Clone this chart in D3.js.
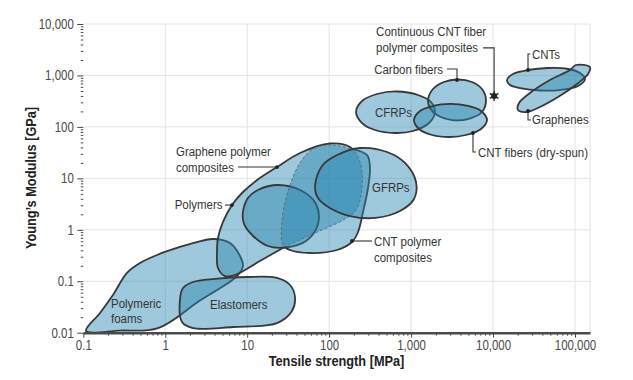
<!DOCTYPE html>
<html><head><meta charset="utf-8">
<script src="https://cdn.jsdelivr.net/npm/d3@7"></script>
<style>
html,body{margin:0;padding:0;background:#fff;}
svg text{font-family:"Liberation Sans",Arial,Helvetica,sans-serif;}
</style></head><body>
<svg id="chart" width="633" height="380"></svg>
<script>
// ---------- axis ticks ----------
const xTicks = [0.1, 1, 10, 100, 1000, 10000, 100000];
const xTickLabels = ["0.1", "1", "10", "100", "1,000", "10,000", "100,000"];
const yTicks = [0.01, 0.1, 1, 10, 100, 1000, 10000];
const yTickLabels = ["0.01", "0.1", "1", "10", "100", "1,000", "10,000"];

// ---------- material regions: [tensile strength MPa, Young's modulus GPa] ----------
const polymericFoams = [[0.108,0.0108],[0.16,0.0242],[0.23,0.054],[0.341,0.145],[0.492,0.226],[0.793,0.324],[1.51,0.464],[2.44,0.579],[3.83,0.662],[6.17,0.553],[8.17,0.31],[8.89,0.198],[7.51,0.126],[2.65,0.0423],[0.816,0.0123],[0.28,0.011]];
const elastomers = [[1.51,0.0433],[1.65,0.074],[2.18,0.0967],[4.05,0.111],[9.95,0.121],[23.1,0.116],[33.3,0.0845],[38.3,0.0494],[35.2,0.0264],[23.1,0.0154],[6.71,0.0129],[2.18,0.0123],[1.6,0.0161]];
const polymers = [[4.4,0.181],[4.28,0.37],[4.4,0.693],[5.07,1.42],[6.52,3.03],[8.64,5.19],[13.2,9.29],[23.1,16.6],[44.1,31.1],[102,47.6],[180,40.7],[238,20.8],[252,6.49],[213,2.43],[156,1.62],[67.2,0.867],[28.9,0.464],[14.3,0.247],[7.1,0.132],[5.36,0.126]];
const graphenePolymerComposites = [[8.89,2.22],[10.2,4.15],[13.5,5.94],[23.8,7.42],[46.6,5.68],[69.1,3.17],[73.1,1.3],[52.2,0.606],[28.9,0.453],[17.9,0.484],[11.8,0.758],[9.14,1.3]];
const cntPolymerComposites = [[27.3,0.507],[26.6,1.55],[32.4,6.49],[44.1,19.9],[63.5,37.2],[102,44.5],[180,38],[290,28.4],[315,15.9],[298,6.49],[259,2.22],[225,0.906],[190,0.579],[125,0.405],[58.4,0.354],[33.3,0.405]];
const gfrps = [[67.2,7.1],[81.8,17.4],[125,28.4],[238,38.9],[508,32.5],[843,19.9],[1148,8.49],[1085,3.97],[732,2.32],[363,1.7],[180,1.85],[102,2.65],[73.1,4.15]];
const cfrps = [[213,195],[252,319],[384,436],[673,488],[1214,417],[1749,305],[1957,195],[1654,119],[1055,83.2],[636,76.1],[363,87],[252,119]];
const carbonFibers = [[1608,333],[1850,545],[2520,746],[3632,834],[5535,746],[7330,545],[8200,333],[7330,195],[4946,142],[3156,136],[2070,170],[1700,233]];
const cntFibers = [[1085,136],[1284,204],[1850,255],[2983,279],[4946,255],[7129,204],[8437,136],[7129,91],[4677,69.6],[2983,63.6],[1799,69.6],[1248,91]];
const cnts = [[14800,816],[17510,1067],[26700,1276],[46820,1396],[82150,1335],[115100,1116],[132400,853],[108800,623],[65600,521],[37400,510],[21300,570],[16100,652]];
const graphenes = [[20160,213],[20740,291],[28200,456],[49500,816],[86900,1276],[102300,1596],[152000,1460],[144100,1067],[105800,682],[62000,381],[37400,244],[25960,195]];
const continuousCntFiberComposite = [10300, 400];

// ---------- labels ----------
const regionLabels = [
  {lines:["Polymeric","foams"], at:[0.218,0.0369]},
  {lines:["Elastomers"], at:[3.52,0.0358]},
  {lines:["GFRPs"], at:[333,6.79]},
  {lines:["CFRPs"], at:[363,195]}
];
const calloutLabels = [
  {key:"gpc", lines:["Graphene polymer","composites"], at:[23.1,16.6]},
  {key:"pol", lines:["Polymers"], at:[6.52,3.03]},
  {key:"cpc", lines:["CNT polymer","composites"], at:[190,0.606]},
  {key:"cf",  lines:["Carbon fibers"], at:[3632,815]},
  {key:"cnf", lines:["CNT fibers (dry-spun)"], at:[5691,76.1]},
  {key:"cnt", lines:["CNTs"], at:[26700,1276]},
  {key:"gr",  lines:["Graphenes"], at:[26700,204]},
  {key:"cc",  lines:["Continuous CNT fiber","polymer composites"], at:continuousCntFiberComposite}
];

// ---------- layout ----------
const SX = 0.85; // condensed lettering
const FS = 13.5;
const svg = d3.select("#chart");
const x = d3.scaleLog().domain([0.1, 1e5]).range([83.3, 575]);
const xEnd = x.invert(590);
x.domain([0.1, xEnd]).range([83.3, 590]);
const y = d3.scaleLog().domain([0.01, 1e4]).range([332.7, 24]);

const FILL = "rgb(40,133,175)", FOP = 0.45, STROKE = "#383838", SW = 1.8;
const TXT = "#353535";

function addText(parent, px, py, lines, o) {
  o = Object.assign({size:FS, anchor:"start", lh:15.4, weight:"normal", fill:TXT, rotate:0}, o || {});
  const t = parent.append("text")
    .attr("transform", `translate(${px},${py})` + (o.rotate ? ` rotate(${o.rotate})` : "") + ` scale(${SX},1)`)
    .attr("font-size", o.size).attr("font-weight", o.weight).attr("fill", o.fill).attr("text-anchor", o.anchor);
  lines.forEach((ln, i) => t.append("tspan").attr("x", 0).attr("y", i * o.lh).attr("dy", "0.35em").text(ln));
  return t;
}

// grid
const grid = svg.append("g").attr("stroke", "#e4e4e4").attr("stroke-width", 1);
grid.selectAll("line.v").data(xTicks.slice(1).concat([xEnd])).join("line")
  .attr("x1", d => x(d)).attr("x2", d => x(d)).attr("y1", y(1e4)).attr("y2", y(0.01));
grid.selectAll("line.h").data(yTicks.slice(1)).join("line")
  .attr("x1", x(0.1)).attr("x2", x(xEnd)).attr("y1", d => y(d)).attr("y2", d => y(d));

// minor tick values
const xMinor = [], yMinor = [];
xTicks.slice(0, -1).forEach(d => { for (let k = 2; k < 10; k++) xMinor.push(d * k); });
yTicks.slice(0, -1).forEach(d => { for (let k = 2; k < 10; k++) yMinor.push(d * k); });

// regions
const curve = d3.line().x(d => x(d[0])).y(d => y(d[1])).curve(d3.curveCatmullRomClosed.alpha(0.5));
const defs = svg.append("defs");
function maskPair(id, pts) {
  const mi = defs.append("mask").attr("id", id + "-in").attr("maskUnits", "userSpaceOnUse")
    .attr("x", 0).attr("y", 0).attr("width", 633).attr("height", 380);
  mi.append("path").attr("d", curve(pts)).attr("fill", "#fff");
  const mo = defs.append("mask").attr("id", id + "-out").attr("maskUnits", "userSpaceOnUse")
    .attr("x", 0).attr("y", 0).attr("width", 633).attr("height", 380);
  mo.append("rect").attr("width", 633).attr("height", 380).attr("fill", "#fff");
  mo.append("path").attr("d", curve(pts)).attr("fill", "#000");
}
maskPair("mPol", polymers);
maskPair("mCpc", cntPolymerComposites);

const gReg = svg.append("g");
function region(pts, hideIn) {
  const g = gReg.append("g");
  g.append("path").attr("d", curve(pts)).attr("fill", FILL).attr("fill-opacity", FOP).attr("stroke", "none");
  if (hideIn) {
    g.append("path").attr("d", curve(pts)).attr("fill", "none").attr("stroke", STROKE).attr("stroke-width", SW)
      .attr("mask", `url(#${hideIn}-out)`);
    g.append("path").attr("d", curve(pts)).attr("fill", "none").attr("stroke", "#6a6a6a").attr("stroke-width", 1)
      .attr("stroke-dasharray", "3,2").attr("mask", `url(#${hideIn}-in)`);
  } else {
    g.append("path").attr("d", curve(pts)).attr("fill", "none").attr("stroke", STROKE).attr("stroke-width", SW);
  }
}
region(polymericFoams);
region(elastomers);
region(polymers, "mCpc");
region(graphenePolymerComposites);
region(cntPolymerComposites, "mPol");
region(gfrps);
region(cfrps);
region(carbonFibers);
region(cntFibers);
region(cnts);
region(graphenes);

// axes
const xAxisY = y(0.01);
svg.append("g").attr("transform", `translate(0,${xAxisY})`)
  .call(d3.axisBottom(x).tickValues(xMinor).tickSize(3).tickSizeOuter(0).tickFormat(""))
  .call(g => { g.select(".domain").remove(); g.selectAll("line").attr("stroke", "#444"); });
svg.append("g").attr("transform", `translate(0,${xAxisY})`)
  .call(d3.axisBottom(x).tickValues(xTicks).tickSize(5).tickSizeOuter(0).tickPadding(2).tickFormat((d, i) => xTickLabels[i]))
  .call(g => {
    g.select(".domain").attr("stroke", "#4a4a4a").attr("stroke-width", 2.5);
    g.selectAll("line").attr("stroke", "#444");
    g.selectAll("text").attr("font-size", 14).attr("fill", "#4a4a4a").attr("transform", "scale(0.82,1)");
  });
svg.append("g").attr("transform", `translate(${x(0.1)},0)`)
  .call(d3.axisLeft(y).tickValues(yMinor).tickSize(2.5).tickSizeOuter(0).tickFormat(""))
  .call(g => { g.select(".domain").remove(); g.selectAll("line").attr("stroke", "#444"); });
svg.append("g").attr("transform", `translate(${x(0.1)},0)`)
  .call(d3.axisLeft(y).tickValues(yTicks).tickSize(6).tickSizeOuter(0).tickPadding(3).tickFormat((d, i) => yTickLabels[i]))
  .call(g => {
    g.select(".domain").remove();
    g.selectAll("line").attr("stroke", "#444");
    g.selectAll("text").attr("font-size", 14).attr("fill", "#4a4a4a")
      .attr("x", -9.5 / 0.82).attr("transform", "scale(0.82,1)");
  });

// axis titles
addText(svg, 336.5, 361, ["Tensile strength [MPa]"], {size:15, weight:"bold", anchor:"middle", fill:"#222"});
addText(svg, 30.5, 178, ["Young\u2019s Modulus [GPa]"], {size:15, weight:"bold", anchor:"middle", fill:"#222", rotate:-90});

// region labels
const gLab = svg.append("g");
regionLabels.forEach(r => addText(gLab, x(r.at[0]), y(r.at[1]), r.lines, {lh:15.2}));

// callouts: leader offsets (px) relative to the anchor point, and text placement
const calloutLayout = {
  gpc: {leader:[[0,0],[-39,0]], tx:-101, ty:-15.3, anchor:"start", lh:15.3},
  pol: {leader:[[0,0],[-7,0]], tx:-9.5, ty:-1, anchor:"end", lh:15.3},
  cpc: {leader:[[0,0],[20,0]], tx:22, ty:0, anchor:"start", lh:16},
  cf:  {leader:[[0,0],[0,-11],[-10,-11]], tx:-14, ty:-11, anchor:"end", lh:15.3},
  cnf: {leader:[[0,0],[0,19],[3,19]], tx:5, ty:19, anchor:"start", lh:15.3},
  cnt: {leader:[[0,0],[0,-16],[2.5,-16]], tx:4, ty:-16, anchor:"start", lh:15.3},
  gr:  {leader:[[0,0],[0,9],[3,9]], tx:4, ty:8.5, anchor:"start", lh:15.3},
  cc:  {leader:[[0,0],[0,-48],[-11,-48]], tx:-118, ty:-64.3, anchor:"start", lh:16}
};
const gCall = svg.append("g");
calloutLabels.forEach(c => {
  const L = calloutLayout[c.key];
  const px = x(c.at[0]), py = y(c.at[1]);
  gCall.append("path").attr("d", d3.line()(L.leader.map(([dx, dy]) => [px + dx, py + dy])))
    .attr("fill", "none").attr("stroke", "#333").attr("stroke-width", 1.1);
  if (c.key === "cc") {
    gCall.append("path").attr("d", d3.symbol(d3.symbolAsterisk, 70)()).attr("transform", `translate(${px},${py})`)
      .attr("stroke", "#222").attr("stroke-width", 1.3).attr("fill", "none");
    gCall.append("circle").attr("cx", px).attr("cy", py).attr("r", 3).attr("fill", "#222");
  } else {
    gCall.append("circle").attr("cx", px).attr("cy", py).attr("r", 1.9).attr("fill", "#222");
  }
  addText(gCall, px + L.tx, py + L.ty, c.lines, {anchor:L.anchor, lh:L.lh});
});
</script>
</body></html>
